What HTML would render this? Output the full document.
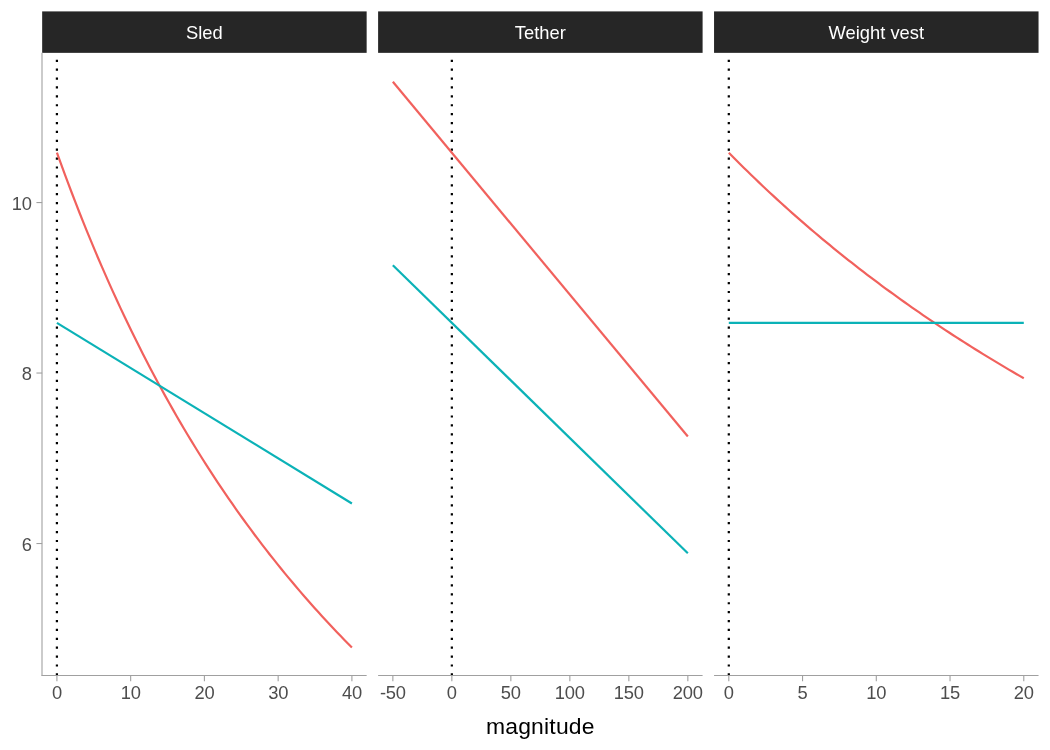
<!DOCTYPE html>
<html lang="en"><head><meta charset="utf-8"><title>magnitude</title>
<style>
html,body{margin:0;padding:0;background:#fff;}
body{width:1050px;height:750px;overflow:hidden;font-family:"Liberation Sans",Arial,Helvetica,sans-serif;}
svg text{font-family:"Liberation Sans",Arial,Helvetica,sans-serif;}
</style></head><body>
<svg width="1050" height="750" viewBox="0 0 1050 750" style="display:block">
<rect width="1050" height="750" fill="#fff"/>
<line x1="56.91" y1="675.5" x2="56.91" y2="55.85" stroke="#000" stroke-width="2.22" stroke-dasharray="2.223 6.670"/>
<line x1="451.85" y1="675.5" x2="451.85" y2="55.85" stroke="#000" stroke-width="2.22" stroke-dasharray="2.223 6.670"/>
<line x1="728.80" y1="675.5" x2="728.80" y2="55.85" stroke="#000" stroke-width="2.22" stroke-dasharray="2.223 6.670"/>
<g fill="none" stroke-width="2.2" stroke-linejoin="round">
<polyline stroke="#F1615D" points="56.91,152.61 60.64,162.96 64.38,173.14 68.11,183.16 71.85,193.01 75.58,202.70 79.31,212.24 83.05,221.62 86.78,230.85 90.52,239.95 94.25,248.89 97.98,257.70 101.72,266.38 105.45,274.92 109.19,283.34 112.92,291.63 116.65,299.79 120.39,307.84 124.12,315.76 127.86,323.58 131.59,331.27 135.32,338.86 139.06,346.34 142.79,353.72 146.53,360.99 150.26,368.16 153.99,375.23 157.73,382.20 161.46,389.08 165.20,395.87 168.93,402.56 172.66,409.16 176.40,415.68 180.13,422.11 183.87,428.46 187.60,434.72 191.33,440.90 195.07,447.01 198.80,453.03 202.54,458.98 206.27,464.85 210.00,470.65 213.74,476.38 217.47,482.03 221.21,487.62 224.94,493.14 228.67,498.59 232.41,503.98 236.14,509.30 239.88,514.55 243.61,519.75 247.34,524.88 251.08,529.96 254.81,534.97 258.55,539.93 262.28,544.82 266.01,549.67 269.75,554.45 273.48,559.19 277.22,563.87 280.95,568.49 284.68,573.07 288.42,577.60 292.15,582.07 295.89,586.50 299.62,590.88 303.35,595.21 307.09,599.49 310.82,603.73 314.56,607.92 318.29,612.07 322.03,616.17 325.76,620.23 329.49,624.25 333.23,628.23 336.96,632.17 340.70,636.06 344.43,639.92 348.16,643.73 351.90,647.51"/>
<polyline stroke="#0BB2B7" points="56.91,322.92 351.90,503.50"/>
<polyline stroke="#F1615D" points="392.86,81.8 687.84,436.5"/>
<polyline stroke="#0BB2B7" points="392.86,265.2 687.84,553.3"/>
<polyline stroke="#F1615D" points="728.80,152.69 732.54,156.49 736.27,160.24 740.00,163.97 743.74,167.67 747.47,171.34 751.21,174.97 754.94,178.58 758.67,182.16 762.41,185.70 766.14,189.22 769.88,192.71 773.61,196.18 777.35,199.61 781.08,203.02 784.81,206.40 788.55,209.75 792.28,213.08 796.02,216.38 799.75,219.66 803.48,222.91 807.22,226.13 810.95,229.33 814.69,232.51 818.42,235.66 822.15,238.79 825.89,241.89 829.62,244.97 833.36,248.03 837.09,251.06 840.82,254.07 844.56,257.06 848.29,260.03 852.03,262.97 855.76,265.89 859.49,268.79 863.23,271.67 866.96,274.53 870.70,277.37 874.43,280.19 878.16,282.99 881.90,285.76 885.63,288.52 889.37,291.26 893.10,293.97 896.83,296.67 900.57,299.35 904.30,302.01 908.04,304.66 911.77,307.28 915.50,309.88 919.24,312.47 922.97,315.04 926.71,317.59 930.44,320.13 934.17,322.64 937.91,325.14 941.64,327.62 945.38,330.09 949.11,332.54 952.84,334.97 956.58,337.39 960.31,339.79 964.05,342.17 967.78,344.54 971.51,346.89 975.25,349.23 978.98,351.55 982.72,353.86 986.45,356.15 990.18,358.42 993.92,360.68 997.65,362.93 1001.39,365.16 1005.12,367.38 1008.85,369.59 1012.59,371.78 1016.32,373.95 1020.06,376.11 1023.79,378.26"/>
<polyline stroke="#0BB2B7" points="728.80,322.92 1023.79,322.92"/>
</g>
<rect x="42.16" y="11.4" width="324.49" height="41.45" fill="#262626"/>
<text x="204.40" y="38.9" font-size="18.33" fill="#fff" text-anchor="middle">Sled</text>
<rect x="378.11" y="11.4" width="324.49" height="41.45" fill="#262626"/>
<text x="540.35" y="38.9" font-size="18.33" fill="#fff" text-anchor="middle">Tether</text>
<rect x="714.05" y="11.4" width="324.49" height="41.45" fill="#262626"/>
<text x="876.30" y="38.9" font-size="18.33" fill="#fff" text-anchor="middle">Weight vest</text>
<g stroke="#a0a0a0" stroke-width="1.1" fill="none">
<line x1="42" y1="52.85" x2="42" y2="676.05"/>
<line x1="36.43" y1="543.52" x2="42.16" y2="543.52"/>
<line x1="36.43" y1="373.04" x2="42.16" y2="373.04"/>
<line x1="36.43" y1="202.56" x2="42.16" y2="202.56"/>
<line x1="41.61" y1="675.5" x2="366.65" y2="675.5"/>
<line x1="56.91" y1="675.5" x2="56.91" y2="681.23"/>
<line x1="130.66" y1="675.5" x2="130.66" y2="681.23"/>
<line x1="204.40" y1="675.5" x2="204.40" y2="681.23"/>
<line x1="278.15" y1="675.5" x2="278.15" y2="681.23"/>
<line x1="351.90" y1="675.5" x2="351.90" y2="681.23"/>
<line x1="378.11" y1="675.5" x2="702.59" y2="675.5"/>
<line x1="392.86" y1="675.5" x2="392.86" y2="681.23"/>
<line x1="451.85" y1="675.5" x2="451.85" y2="681.23"/>
<line x1="510.85" y1="675.5" x2="510.85" y2="681.23"/>
<line x1="569.85" y1="675.5" x2="569.85" y2="681.23"/>
<line x1="628.85" y1="675.5" x2="628.85" y2="681.23"/>
<line x1="687.84" y1="675.5" x2="687.84" y2="681.23"/>
<line x1="714.05" y1="675.5" x2="1038.54" y2="675.5"/>
<line x1="728.80" y1="675.5" x2="728.80" y2="681.23"/>
<line x1="802.55" y1="675.5" x2="802.55" y2="681.23"/>
<line x1="876.30" y1="675.5" x2="876.30" y2="681.23"/>
<line x1="950.04" y1="675.5" x2="950.04" y2="681.23"/>
<line x1="1023.79" y1="675.5" x2="1023.79" y2="681.23"/>
</g>
<g font-size="18.33" fill="#4d4d4d" letter-spacing="-0.19">
<text x="31.85" y="551" text-anchor="end">6</text>
<text x="31.85" y="380" text-anchor="end">8</text>
<text x="31.85" y="210" text-anchor="end">10</text>
<text x="56.91" y="698.9" text-anchor="middle">0</text>
<text x="130.66" y="698.9" text-anchor="middle">10</text>
<text x="204.40" y="698.9" text-anchor="middle">20</text>
<text x="278.15" y="698.9" text-anchor="middle">30</text>
<text x="351.90" y="698.9" text-anchor="middle">40</text>
<text x="392.86" y="698.9" text-anchor="middle">-50</text>
<text x="451.85" y="698.9" text-anchor="middle">0</text>
<text x="510.85" y="698.9" text-anchor="middle">50</text>
<text x="569.85" y="698.9" text-anchor="middle">100</text>
<text x="628.85" y="698.9" text-anchor="middle">150</text>
<text x="687.84" y="698.9" text-anchor="middle">200</text>
<text x="728.80" y="698.9" text-anchor="middle">0</text>
<text x="802.55" y="698.9" text-anchor="middle">5</text>
<text x="876.30" y="698.9" text-anchor="middle">10</text>
<text x="950.04" y="698.9" text-anchor="middle">15</text>
<text x="1023.79" y="698.9" text-anchor="middle">20</text>
</g>
<text x="540.35" y="733.6" font-size="22.92" fill="#000" text-anchor="middle" letter-spacing="0.2">magnitude</text>
</svg>
</body></html>
